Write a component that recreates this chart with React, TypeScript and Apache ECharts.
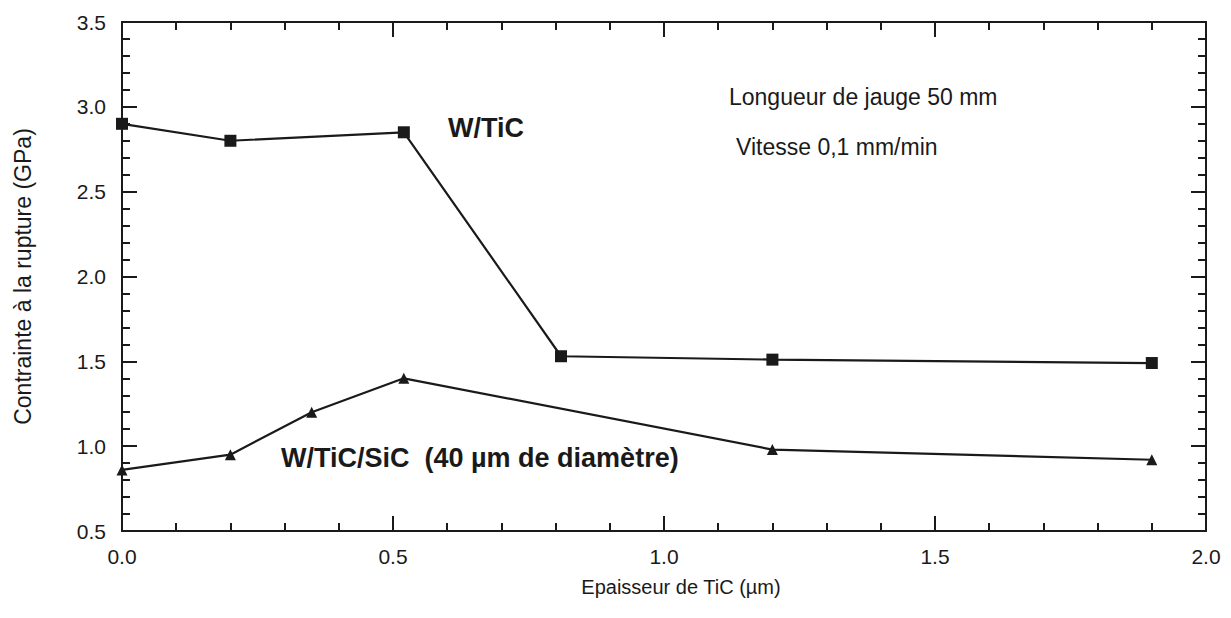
import React, { useEffect, useRef } from "react";
import * as echarts from "echarts";

const wticX = [0, 0.2, 0.52, 0.81, 1.2, 1.9];
const wticY = [2.9, 2.8, 2.85, 1.53, 1.51, 1.49];
const sicX = [0, 0.2, 0.35, 0.52, 1.2, 1.9];
const sicY = [0.86, 0.95, 1.2, 1.4, 0.98, 0.92];
const xTitle = "Epaisseur de TiC (µm)";
const yTitle = "Contrainte à la rupture (GPa)";
const annotations = [
  { text: "W/TiC", x: 448, y: 128, bold: true },
  { text: "W/TiC/SiC  (40 µm de diamètre)", x: 281, y: 458, bold: true },
  { text: "Longueur de jauge 50 mm", x: 729, y: 97, bold: false },
  { text: "Vitesse 0,1 mm/min", x: 736, y: 147, bold: false },
];

const FONT = "Liberation Sans, Arial, sans-serif";
const INK = "#1a1a1a";

export default function App() {
  const ref = useRef<HTMLDivElement>(null);
  useEffect(() => {
    if (!ref.current) return;
    const chart = echarts.init(ref.current, undefined, { renderer: "svg" });
    const axisCommon = {
      axisLine: { show: true, onZero: false, lineStyle: { color: INK, width: 2 } },
      axisTick: { show: true, inside: true, length: 15, lineStyle: { color: INK, width: 2 } },
      minorTick: { show: true, splitNumber: 5, length: 8, lineStyle: { color: INK, width: 2 } },
      splitLine: { show: false },
    };
    chart.setOption({
      animation: false,
      backgroundColor: "#ffffff",
      grid: { left: 122, top: 22, right: 25, bottom: 87, containLabel: false },
      xAxis: [
        {
          type: "value",
          min: 0,
          max: 2,
          interval: 0.5,
          position: "bottom",
          ...axisCommon,
          axisLabel: {
            formatter: (v: number) => v.toFixed(1),
            color: INK,
            fontFamily: FONT,
            fontSize: 21,
            margin: 15,
          },
          name: xTitle,
          nameLocation: "middle",
          nameGap: 46,
          nameTextStyle: { color: INK, fontFamily: FONT, fontSize: 20, padding: [0, 0, 0, 34] },
        },
        {
          type: "value",
          min: 0,
          max: 2,
          interval: 0.5,
          position: "top",
          ...axisCommon,
          axisLabel: { show: false },
        },
      ],
      yAxis: [
        {
          type: "value",
          min: 0.5,
          max: 3.5,
          interval: 0.5,
          position: "left",
          ...axisCommon,
          axisLabel: {
            formatter: (v: number) => v.toFixed(1),
            color: INK,
            fontFamily: FONT,
            fontSize: 21,
            margin: 16,
          },
          name: yTitle,
          nameLocation: "middle",
          nameGap: 88,
          nameTextStyle: { color: INK, fontFamily: FONT, fontSize: 23 },
        },
        {
          type: "value",
          min: 0.5,
          max: 3.5,
          interval: 0.5,
          position: "right",
          ...axisCommon,
          axisLabel: { show: false },
        },
      ],
      series: [
        {
          type: "line",
          data: wticX.map((x, i) => [x, wticY[i]]),
          symbol: "rect",
          symbolSize: 12,
          lineStyle: { color: INK, width: 2.2 },
          itemStyle: { color: INK },
          clip: false,
        },
        {
          type: "line",
          data: sicX.map((x, i) => [x, sicY[i]]),
          symbol: "triangle",
          symbolSize: 11,
          lineStyle: { color: INK, width: 2.2 },
          itemStyle: { color: INK },
          clip: false,
        },
      ],
      graphic: annotations.map((a) => ({
        type: "text",
        x: a.x,
        y: a.y,
        style: {
          text: a.text,
          fill: INK,
          fontFamily: FONT,
          fontSize: a.bold ? 27 : 23,
          fontWeight: a.bold ? "bold" : "normal",
          align: "left",
          verticalAlign: "middle",
        },
      })),
    });
    return () => chart.dispose();
  }, []);
  return <div ref={ref} style={{ width: 1231, height: 618, position: "absolute", left: 0, top: 0 }} />;
}
